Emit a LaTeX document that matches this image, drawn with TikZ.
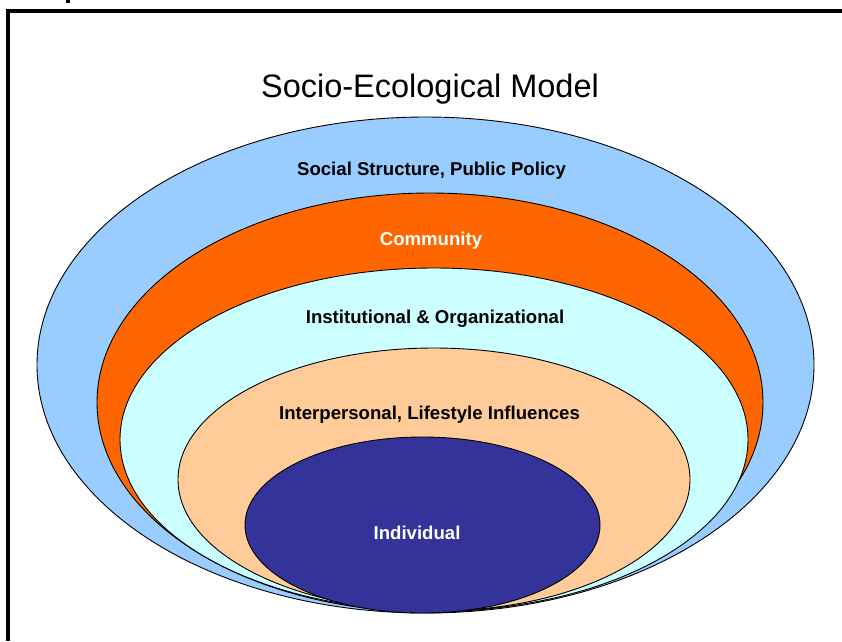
\documentclass[tikz,border=0pt]{standalone}
\usepackage{fontspec}
\setmainfont{Liberation Sans}
\definecolor{lblue}{HTML}{99CCFF}
\definecolor{orng}{HTML}{FF6600}
\definecolor{lcyan}{HTML}{CCFFFF}
\definecolor{peach}{HTML}{FFCC99}
\definecolor{navy}{HTML}{333399}
\begin{document}
\begin{tikzpicture}[x=1pt,y=-1pt,
  ring/.style={draw=black,line width=0.9pt},
  lbl/.style={font=\fontsize{18.6}{20}\selectfont\bfseries,anchor=base,inner sep=0pt},
  ttl/.style={font=\fontsize{32.5}{35}\selectfont,anchor=base,inner sep=0pt}]
\useasboundingbox (0,0) rectangle (842,641);
\fill[white] (0,0) rectangle (842,641);
% frame
\draw[line width=4pt] (8,641) -- (8,11) -- (842,11);
\fill[black] (66,0) rectangle (70,3);
% rings
\path[ring,fill=lblue] (425.5,365) ellipse [x radius=388.5,y radius=248];
\path[ring,fill=orng] (430,402.5) ellipse [x radius=333,y radius=209.5];
\path[ring,fill=lcyan] (434,439.5) ellipse [x radius=314,y radius=171.5];
\path[ring,fill=peach] (434,479.5) ellipse [x radius=256,y radius=131.5];
\path[ring,fill=navy] (422.5,525) ellipse [x radius=177.5,y radius=88];
% texts
\node[ttl] (title) at (430,97) {Socio-Ecological Model};
\node[lbl] (social) at (431.5,175) {Social Structure, Public Policy};
\node[lbl,text=white] (community) at (431,245.5) {Community};
\node[lbl] (inst) at (435,323) {Institutional \& Organizational};
\node[lbl] (inter) at (429.5,419.5) {Interpersonal, Lifestyle Influences};
\node[lbl,text=white] (indiv) at (417,539) {Individual};
\end{tikzpicture}
\end{document}
